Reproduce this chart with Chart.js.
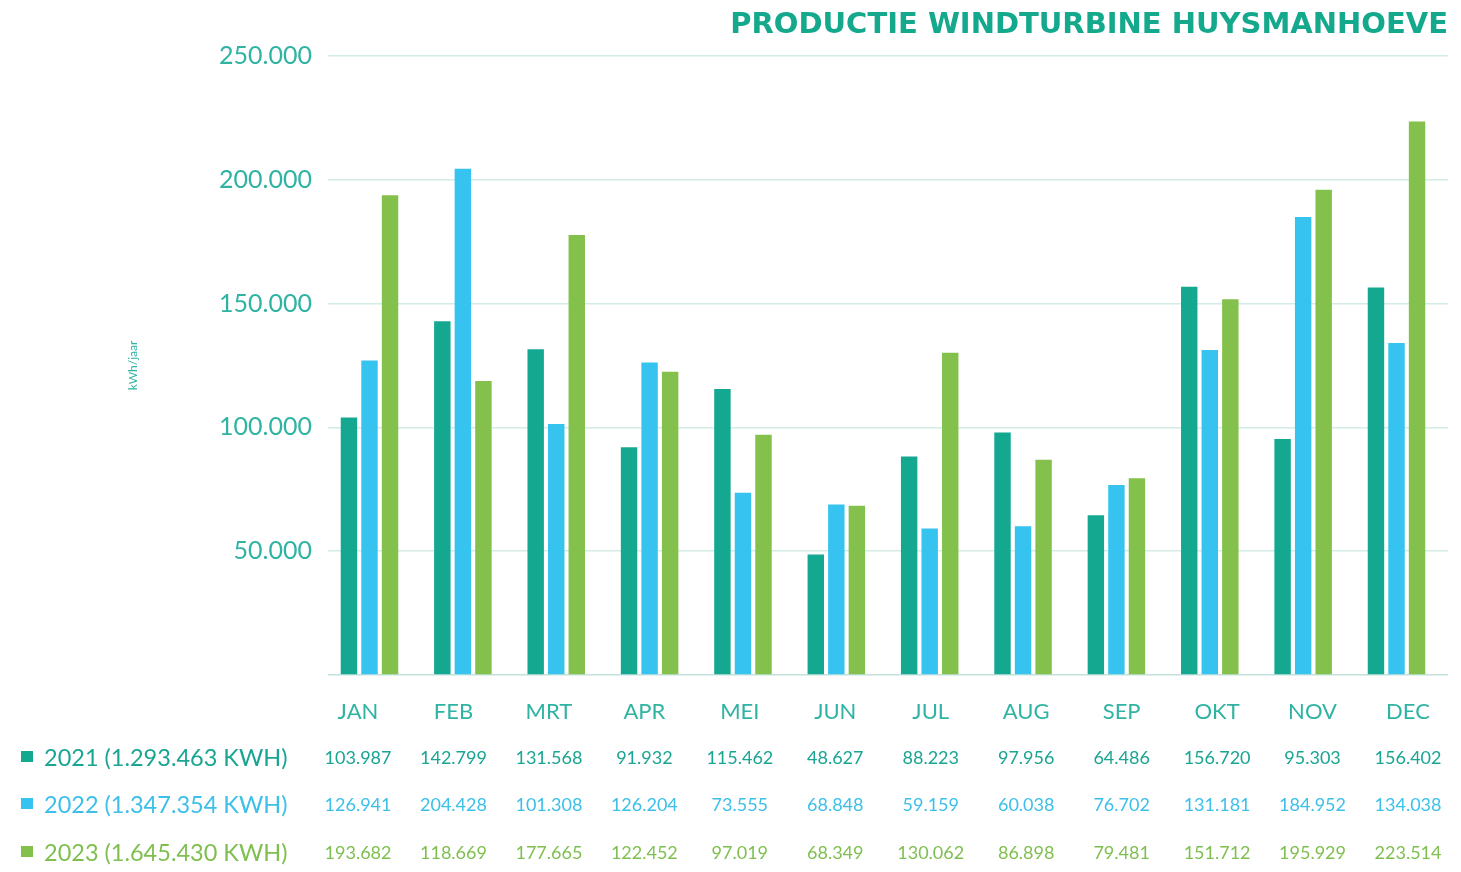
<!DOCTYPE html>
<html>
<head>
<meta charset="utf-8">
<script src="https://cdn.jsdelivr.net/npm/chart.js@4"></script>
<style>
  html, body { margin: 0; padding: 0; background: #fff; }
  #wrap { width: 1461px; height: 872px; position: relative; }
</style>
</head>
<body>
<div id="wrap"><canvas id="windChart" width="1461" height="872"></canvas></div>
<script>
const months = ["JAN", "FEB", "MRT", "APR", "MEI", "JUN", "JUL", "AUG", "SEP", "OKT", "NOV", "DEC"];
const prod2021 = [103987, 142799, 131568, 91932, 115462, 48627, 88223, 97956, 64486, 156720, 95303, 156402];
const prod2022 = [126941, 204428, 101308, 126204, 73555, 68848, 59159, 60038, 76702, 131181, 184952, 134038];
const prod2023 = [193682, 118669, 177665, 122452, 97019, 68349, 130062, 86898, 79481, 151712, 195929, 223514];
const seriesLabels = ["2021 (1.293.463 KWH)", "2022 (1.347.354 KWH)", "2023 (1.645.430 KWH)"];

const barColors = ["#15a891", "#37c3ef", "#84c14c"];
const textColors = ["#1aa593", "#3cc0ea", "#7fbf4f"];
const teal = "#2fb3a3";

function fmt(n) {
    return String(n).replace(/\B(?=(\d{3})+(?!\d))/g, ".");
}

function points(vals) {
    return vals.map((v, i) => ({ x: i, y: v }));
}

// table under the x axis, columns follow the month label positions
const tablePlugin = {
    id: "table",
    afterDraw(chart) {
        const ctx = chart.ctx;
        const x = chart.scales.xl;
        const rowsY = [758, 805, 853];
        const all = [prod2021, prod2022, prod2023];
        ctx.save();
        ctx.textBaseline = "middle";
        all.forEach((vals, i) => {
            const y = rowsY[i];
            ctx.fillStyle = barColors[i];
            ctx.fillRect(21, y - 7, 12, 11);
            ctx.fillStyle = textColors[i];
            ctx.font = "23.5px Lato";
            ctx.textAlign = "left";
            ctx.fillText(seriesLabels[i], 44, y);
            ctx.font = "18px Lato";
            ctx.textAlign = "center";
            vals.forEach((v, j) => {
                ctx.fillText(fmt(v), x.getPixelForValue(j), y);
            });
        });
        ctx.restore();
    }
};

const ctx = document.getElementById("windChart").getContext("2d");
new Chart(ctx, {
    type: "bar",
    data: {
        datasets: [
            { label: seriesLabels[0], data: points(prod2021), backgroundColor: barColors[0] },
            { label: seriesLabels[1], data: points(prod2022), backgroundColor: barColors[1] },
            { label: seriesLabels[2], data: points(prod2023), backgroundColor: barColors[2] }
        ]
    },
    options: {
        responsive: false,
        animation: false,
        layout: { padding: { left: 0, right: 13, top: 0, bottom: 0 } },
        datasets: { bar: { categoryPercentage: 0.66, barPercentage: 0.8 } },
        scales: {
            x: {
                type: "linear",
                display: false,
                offset: false,
                min: -0.4445,
                max: 11.5515
            },
            xl: {
                type: "linear",
                position: "bottom",
                offset: false,
                min: -0.3143,
                max: 11.419,
                grid: { display: false },
                border: { display: false },
                ticks: {
                    stepSize: 1,
                    includeBounds: false,
                    color: teal,
                    padding: 16,
                    font: { family: "Lato", size: 22 },
                    callback: (v) => months[v] || ""
                },
                afterFit: (s) => { s.height = 197; }
            },
            y: {
                min: 0,
                max: 250000,
                border: { display: false },
                grid: {
                    drawTicks: false,
                    color: (c) => c.tick && c.tick.value === 0 ? "#c3e2dc" : "#d3ece8",
                    lineWidth: 1.5
                },
                ticks: {
                    stepSize: 50000,
                    padding: 16,
                    color: teal,
                    font: { family: "Lato", size: 25 },
                    callback: (v) => v === 0 ? "" : fmt(v)
                },
                title: {
                    display: true,
                    text: "kWh/jaar",
                    color: teal,
                    font: { family: "Lato", size: 12 },
                    padding: { top: 126, bottom: 0 }
                },
                afterFit: (s) => { s.width = 328; }
            }
        },
        plugins: {
            legend: { display: false },
            tooltip: { enabled: false },
            title: {
                display: true,
                text: "PRODUCTIE WINDTURBINE HUYSMANHOEVE",
                align: "end",
                color: "#14a88d",
                font: { family: "DejaVu Sans", size: 29, weight: "bold" },
                padding: { top: 8, bottom: 13 }
            }
        }
    },
    plugins: [tablePlugin]
});
</script>
</body>
</html>
